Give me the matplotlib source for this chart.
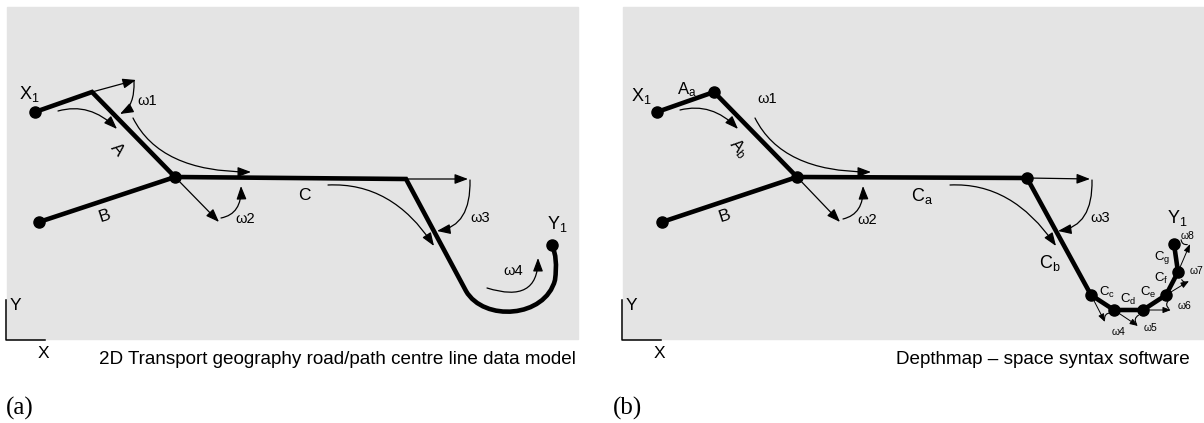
import matplotlib.pyplot as plt
from matplotlib.patches import FancyArrowPatch, Rectangle, PathPatch
from matplotlib.path import Path
import numpy as np

plt.rcParams['font.family'] = ['Liberation Sans', 'DejaVu Sans']
plt.rcParams['mathtext.fontset'] = 'custom'
plt.rcParams['mathtext.rm'] = 'Liberation Sans'

# ---- panel (a): centre line model (pixel coordinates, y down) ----
a_box = (7, 7, 578, 339)
a_roads = [
    [(35, 112), (92, 92), (175, 177)],           # X1 - A
    [(39, 222), (175, 177)],                     # B
]
# road C: straight part then the smooth U bend up to Y1
a_road_c = [(175, 177), (406, 179), (466, 291),
            (484, 322), (545, 318), (555, 280),
            (558, 258), (552, 245)]
a_road_c_codes = [Path.MOVETO, Path.LINETO, Path.LINETO,
                  Path.CURVE4, Path.CURVE4, Path.CURVE4,
                  Path.CURVE3, Path.CURVE3]
a_dots = [(35, 112), (39, 222), (175, 177), (552, 245)]
a_straight = [((92, 92), (136, 80)), ((175, 177), (219, 222)),
              ((406, 179), (468, 179))]
a_curves = [
    ((58, 111), (90, 102), (117, 129)),
    ((133, 118), (160, 172), (251, 172)),
    ((134, 81), (135, 106), (120, 114)),
    ((221, 218), (242, 214), (241, 186)),
    ((470, 180), (471, 226), (437, 231)),
    ((328, 185), (392, 182), (434, 246)),
    ((487, 288), (538, 304), (538, 258)),
]
a_labels = [("A", 117, 150, -50, 12.5), ("B", 105, 216, 18, 12.5),
            ("C", 304, 196, 0, 12.5), ("ω1", 147, 101, 0, 10.5),
            ("ω2", 245, 219, 0, 10.5), ("ω3", 480, 218, 0, 10.5),
            ("ω4", 513, 271, 0, 10.5)]

# ---- panel (b): Depthmap segment model ----
b_box = (623, 7, 1204, 339)
b_roads = [
    [(657, 112), (714, 92), (797, 177)],
    [(662, 222), (797, 177)],
    [(797, 177), (1027, 178), (1091, 295), (1114, 310), (1143, 310),
     (1166, 295), (1178, 272), (1174, 244)],
]
b_dots = [(657, 112), (714, 92), (797, 177), (662, 222), (1027, 178),
          (1091, 295), (1114, 310), (1143, 310), (1166, 295), (1178, 272),
          (1174, 244)]
b_straight = [((797, 177), (840, 222)), ((1027, 178), (1090, 179))]
b_small = [((1091, 295), (1105, 322)), ((1114, 310), (1138, 326)),
           ((1143, 310), (1171, 310)), ((1166, 295), (1189, 281)),
           ((1178, 272), (1190, 244))]
b_curves = [
    ((680, 110), (712, 102), (738, 129)),
    ((755, 118), (782, 172), (871, 172)),
    ((843, 219), (864, 214), (863, 186)),
    ((1092, 180), (1093, 226), (1058, 231)),
    ((950, 185), (1012, 182), (1056, 246)),
]
b_ticks = [((1105, 322), (1113, 313)), ((1138, 326), (1141, 314)),
           ((1171, 310), (1170, 299)), ((1189, 281), (1181, 277)),
           ((1190, 244), (1181, 237))]
b_labels = [("$\\mathregular{A_a}$", 687, 90, 0, 12),
            ("$\\mathregular{A_b}$", 738, 148, -50, 12),
            ("B", 725, 216, 18, 12.5), ("$\\mathregular{C_a}$", 922, 196, 0, 13),
            ("$\\mathregular{C_b}$", 1050, 263, 0, 13),
            ("$\\mathregular{C_c}$", 1107, 292, 0, 9.5),
            ("$\\mathregular{C_d}$", 1128, 299, 0, 9.5),
            ("$\\mathregular{C_e}$", 1148, 292, 0, 9.5),
            ("$\\mathregular{C_f}$", 1161, 278, 0, 9.5),
            ("$\\mathregular{C_g}$", 1162, 258, 0, 9.5),
            ("ω1", 767, 99, 0, 10.5), ("ω2", 867, 220, 0, 10.5),
            ("ω3", 1100, 218, 0, 10.5), ("ω4", 1118, 332, 0, 7.5),
            ("ω5", 1151, 328, 0, 7.5), ("ω6", 1185, 306, 0, 7.5),
            ("ω7", 1196, 271, 0, 7.5), ("ω8", 1188, 236, 0, 7.5)]

ARROW = '-|>,head_length=0.8,head_width=0.3'


def arrow(ax, p0, p1, scale=10, lw=0.9):
    ax.add_patch(FancyArrowPatch(p0, p1, arrowstyle=ARROW, mutation_scale=scale,
                                 lw=lw, color='black', shrinkA=0, shrinkB=0))


def curve(ax, pts):
    path = Path(pts, [Path.MOVETO, Path.CURVE3, Path.CURVE3])
    ax.add_patch(FancyArrowPatch(path=path, arrowstyle=ARROW, mutation_scale=10,
                                 lw=0.9, color='black'))


def panel(ax, box, roads, dots, straight, curves, labels):
    x0, y0, x1, y1 = box
    ax.add_patch(Rectangle((x0, y0), x1 - x0, y1 - y0, color='#e4e4e4', zorder=0))
    for r in roads:
        r = np.array(r)
        ax.plot(r[:, 0], r[:, 1], color='black', lw=3.3,
                solid_capstyle='round', solid_joinstyle='miter')
    d = np.array(dots)
    ax.plot(d[:, 0], d[:, 1], 'o', color='black', ms=8)
    for p0, p1 in straight:
        arrow(ax, p0, p1)
    for c in curves:
        curve(ax, c)
    for txt, x, y, rot, fs in labels:
        ax.text(x, y, txt, fontsize=fs, rotation=rot, ha='center', va='center')
    # axis indicator
    ax.plot([x0 - 1, x0 - 1, x0 + 38], [300, 340, 340], color='black', lw=1.1)
    ax.text(x0 + 8, 306, "Y", fontsize=12.5, ha='center', va='center')
    ax.text(x0 + 36, 353, "X", fontsize=12.5, ha='center', va='center')


fig = plt.figure(figsize=(12.04, 4.23), dpi=100)
ax = fig.add_axes([0, 0, 1, 1])
ax.set_xlim(0, 1204)
ax.set_ylim(423, 0)
ax.axis('off')

panel(ax, a_box, a_roads, a_dots, a_straight, a_curves, a_labels)
ax.add_patch(PathPatch(Path(a_road_c, a_road_c_codes), fill=False, lw=3.3,
                       edgecolor='black', joinstyle='miter', capstyle='round'))
ax.text(29, 94, "$\\mathregular{X_1}$", fontsize=13, ha='center', va='center')
ax.text(557, 224, "$\\mathregular{Y_1}$", fontsize=13, ha='center', va='center')
ax.text(576, 359, "2D Transport geography road/path centre line data model",
        fontsize=13.6, ha='right', va='center')
ax.text(6, 408, "(a)", fontsize=18, family='Liberation Serif', ha='left', va='center')

panel(ax, b_box, b_roads, b_dots, b_straight, b_curves, b_labels)
for p0, p1 in b_small:
    arrow(ax, p0, p1, scale=6, lw=0.7)
for p0, p1 in b_ticks:
    ax.add_patch(FancyArrowPatch(p0, p1, arrowstyle='-', lw=0.8, color='black',
                                 connectionstyle='arc3,rad=-0.7'))
ax.text(641, 96, "$\\mathregular{X_1}$", fontsize=13, ha='center', va='center')
ax.text(1177, 218, "$\\mathregular{Y_1}$", fontsize=13, ha='center', va='center')
ax.text(1190, 359, "Depthmap – space syntax software",
        fontsize=13.6, ha='right', va='center')
ax.text(613, 408, "(b)", fontsize=18, family='Liberation Serif', ha='left', va='center')

fig.savefig("out.png", dpi=100)
